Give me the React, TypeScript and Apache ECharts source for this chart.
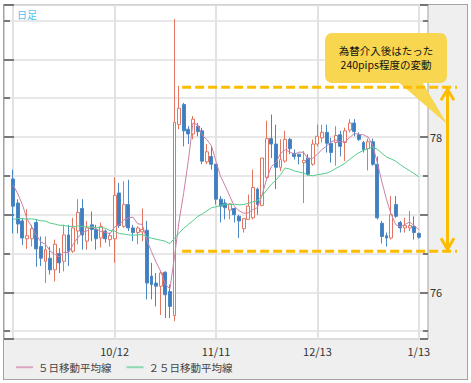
import React, { useEffect, useRef } from "react";
import * as echarts from "echarts";

// Trading days (category axis). Data exists from 9/12 to 1/13.
const dates = [
  "9/8", "9/9", "9/12", "9/13", "9/14", "9/15", "9/16", "9/19", "9/20", "9/21",
  "9/22", "9/23", "9/26", "9/27", "9/28", "9/29", "9/30", "10/3", "10/4", "10/5",
  "10/6", "10/7", "10/10", "10/11", "10/12", "10/13", "10/14", "10/17", "10/18", "10/19",
  "10/20", "10/21", "10/24", "10/25", "10/26", "10/27", "10/28", "10/31", "11/1", "11/2",
  "11/3", "11/4", "11/7", "11/8", "11/9", "11/10", "11/11", "11/14", "11/15", "11/16",
  "11/17", "11/18", "11/21", "11/22", "11/23", "11/24", "11/25", "11/28", "11/29", "11/30",
  "12/1", "12/2", "12/5", "12/6", "12/7", "12/8", "12/9", "12/12", "12/13", "12/14",
  "12/15", "12/16", "12/19", "12/20", "12/21", "12/22", "12/23", "12/27", "12/28", "12/29",
  "12/30", "1/2", "1/3", "1/4", "1/5", "1/6", "1/9", "1/10", "1/11", "1/12",
  "1/13", "1/16", "1/17",
];
const firstDataDate = "9/12";

const opens = [
  77.46, 77.15, 76.92, 76.69, 76.69, 76.90, 76.59, 76.40, 76.44, 76.29,
  76.50, 76.40, 76.74, 76.53, 76.79, 77.08, 76.66, 76.87, 76.81, 76.70,
  76.79, 76.68, 76.69, 77.28, 76.85, 77.13, 76.83, 76.77, 76.78, 76.80,
  76.21, 76.12, 76.08, 76.26, 76.01, 75.70, 78.16, 78.42, 78.10, 78.04,
  78.14, 78.08, 77.68, 77.75, 77.65, 77.20, 77.15, 77.06, 77.08, 76.98,
  76.82, 76.94, 76.96, 77.33, 77.12, 77.48, 77.98, 77.91, 77.61, 77.69,
  77.97, 77.79, 77.78, 77.67, 77.73, 77.65, 77.91, 77.99, 78.06, 77.92,
  77.93, 78.03, 77.93, 78.09, 78.18, 78.03, 77.93, 77.85, 77.94, 77.65,
  76.89, 76.73, 76.70, 77.13, 76.90, 76.83, 76.83, 76.85, 76.76,
];
const closes = [
  77.11, 76.88, 76.70, 76.73, 76.82, 76.56, 76.44, 76.55, 76.29, 76.62,
  76.38, 76.74, 76.53, 76.83, 77.03, 76.74, 76.83, 76.81, 76.69, 76.85,
  76.69, 76.73, 77.25, 76.86, 77.13, 76.83, 76.77, 76.83, 76.81, 76.12,
  76.10, 76.08, 76.25, 75.97, 75.82, 78.19, 78.37, 78.08, 78.04, 78.23,
  78.07, 77.69, 77.81, 77.65, 77.20, 77.11, 77.09, 77.14, 77.00, 76.92,
  76.95, 77.11, 77.35, 77.13, 77.73, 77.98, 77.91, 77.61, 77.71, 77.97,
  77.85, 77.75, 77.75, 77.70, 77.52, 77.91, 78.01, 78.06, 77.92, 77.80,
  78.02, 77.88, 78.08, 78.18, 78.07, 77.97, 77.84, 77.94, 77.65, 76.96,
  76.72, 76.70, 77.00, 76.98, 76.83, 76.86, 76.86, 76.77, 76.71,
];
const lows = [
  76.76, 76.76, 76.61, 76.56, 76.59, 76.33, 76.34, 76.12, 76.23, 76.14,
  76.25, 76.27, 76.34, 76.51, 76.62, 76.55, 76.55, 76.66, 76.55, 76.58,
  76.64, 76.59, 76.38, 76.83, 76.83, 76.79, 76.66, 76.62, 76.66, 75.91,
  75.91, 75.82, 75.71, 75.67, 75.67, 75.63, 78.10, 77.88, 77.91, 77.97,
  78.01, 77.65, 77.65, 77.58, 77.13, 76.90, 76.94, 76.94, 76.90, 76.70,
  76.77, 76.94, 76.94, 77.00, 77.11, 77.45, 77.73, 77.33, 77.56, 77.67,
  77.78, 77.71, 77.65, 77.15, 77.50, 77.63, 77.88, 77.93, 77.80, 77.67,
  77.63, 77.75, 77.69, 78.06, 78.01, 77.95, 77.80, 77.57, 77.63, 76.94,
  76.63, 76.59, 76.68, 76.96, 76.77, 76.77, 76.79, 76.68, 76.69,
];
const highs = [
  77.58, 77.20, 76.96, 77.07, 76.87, 76.94, 76.72, 76.72, 76.59, 76.68,
  76.57, 76.87, 76.87, 76.96, 77.20, 77.20, 76.92, 77.04, 76.87, 76.90,
  76.81, 76.77, 77.48, 77.41, 77.43, 77.45, 76.87, 76.85, 77.08, 76.92,
  76.38, 76.25, 76.27, 76.27, 76.10, 79.52, 78.66, 78.44, 78.14, 78.27,
  78.18, 78.12, 77.91, 77.88, 77.65, 77.24, 77.20, 77.15, 77.09, 77.00,
  76.96, 77.26, 77.58, 77.35, 77.73, 78.21, 78.29, 78.16, 77.97, 78.08,
  77.99, 77.84, 77.78, 77.82, 77.78, 77.97, 78.16, 78.16, 78.16, 77.99,
  78.14, 78.08, 78.12, 78.23, 78.23, 78.06, 77.95, 77.98, 77.98, 77.75,
  76.92, 76.77, 77.24, 77.24, 76.92, 76.96, 77.05, 76.98, 76.77,
];
// closes of the 24 trading days before 9/12 (estimated from the MA lines' starting levels)
const priorCloses = [
  76.60, 76.75, 76.90, 76.70, 76.85, 76.80, 76.65, 76.95, 76.90, 76.75, 76.80,
  76.85, 76.95, 76.80, 76.90, 76.95, 76.85, 76.91,
  76.80, 76.94, 77.45, 77.40, 77.65, 77.30,
];

const ma5Name = "５日移動平均線";
const ma25Name = "２５日移動平均線";
const labelDates = ["10/12", "11/11", "12/13", "1/13"];
const gridDates = ["9/12", "10/12", "11/11", "12/13", "1/13"];
const yMin = 75.4;
const yMax = 79.7;
const periodLabel = "日足";
const calloutLines = ["為替介入後はたった", "240pips程度の変動"];
const rangeHigh = 78.64;
const rangeLow = 76.53;
const rangeStartDate = "11/1";

const FONT = "'Noto Sans CJK JP', 'Noto Sans', sans-serif";
const ORANGE = "#fcbd00";
const YELLOW = "#f8d64f";

function movingAverage(n: number): (number | string)[] {
  const start = dates.indexOf(firstDataDate);
  const all = priorCloses.concat(closes);
  const off = priorCloses.length;
  return dates.map((_, i) => {
    const k = i - start;
    if (k < 0 || k >= closes.length) return "-";
    let s = 0;
    for (let j = 0; j < n; j++) s += all[k + off - j];
    return +(s / n).toFixed(3);
  });
}

export default function App() {
  const ref = useRef<HTMLDivElement>(null);

  useEffect(() => {
    if (!ref.current) return;
    const chart = echarts.init(ref.current, undefined, { renderer: "svg" });
    const start = dates.indexOf(firstDataDate);
    const candle = dates.map((_, i) => {
      const k = i - start;
      if (k < 0 || k >= opens.length) return ["-", "-", "-", "-"];
      return [opens[k], closes[k], lows[k], highs[k]];
    });

    chart.setOption({
      animation: false,
      textStyle: { fontFamily: FONT },
      grid: {
        left: 4,
        top: 5,
        width: 424,
        height: 334,
        show: true,
        backgroundColor: "#ffffff",
        borderColor: "#a3a3a3",
        borderWidth: 1,
      },
      legend: {
        left: 16,
        top: 362,
        padding: 0,
        itemWidth: 17,
        itemHeight: 2,
        itemGap: 15,
        icon: "rect",
        data: [ma5Name, ma25Name],
        textStyle: { fontSize: 10.5, color: "#444", fontFamily: FONT },
      },
      xAxis: {
        type: "category",
        data: dates,
        boundaryGap: false,
        axisLine: { show: false },
        axisTick: { show: false },
        axisLabel: {
          interval: (_i: number, v: string) => labelDates.includes(v),
          fontSize: 11,
          color: "#333",
          margin: 6,
          fontFamily: FONT,
        },
        splitLine: {
          show: true,
          interval: (_i: number, v: string) => gridDates.includes(v),
          lineStyle: { color: "#e2e2e2", width: 2 },
        },
      },
      yAxis: [
        {
          type: "value",
          position: "left",
          min: yMin,
          max: yMax,
          splitNumber: 4,
          axisLine: { show: false },
          axisTick: { show: true, inside: true, length: 10, lineStyle: { color: "#555", width: 1.5 } },
          minorTick: { show: true, splitNumber: 2, length: 6, lineStyle: { color: "#555", width: 1.5 } },
          axisLabel: { show: false },
          splitLine: { show: true, lineStyle: { color: "#e0e0e0", width: 1.5 } },
          minorSplitLine: { show: true, lineStyle: { color: "#e0e0e0", width: 1.5 } },
        },
        {
          type: "value",
          position: "right",
          min: yMin,
          max: yMax,
          splitNumber: 4,
          axisLine: { show: false },
          axisTick: { show: true, inside: true, length: 8, lineStyle: { color: "#555", width: 1.5 } },
          minorTick: { show: true, splitNumber: 2, length: 5, lineStyle: { color: "#555", width: 1.5 } },
          axisLabel: {
            margin: 2,
            fontSize: 11,
            color: "#333",
            fontFamily: FONT,
            formatter: (v: number) => (Math.abs(v - Math.round(v)) < 1e-6 && Math.round(v) % 2 === 0 ? String(Math.round(v)) : ""),
          },
          splitLine: { show: false },
        },
      ],
      series: [
        {
          type: "candlestick",
          data: candle,
          barWidth: 3.4,
          itemStyle: {
            color: "#ffffff",
            color0: "#3f7fbf",
            borderColor: "#e27660",
            borderColor0: "#4a87c4",
            borderWidth: 1,
          },
        },
        {
          type: "line",
          name: ma5Name,
          data: movingAverage(5),
          symbol: "none",
          lineStyle: { color: "#cc80a8", width: 1 },
          itemStyle: { color: "#dca4c0" },
          z: 3,
        },
        {
          type: "line",
          name: ma25Name,
          data: movingAverage(25),
          symbol: "none",
          lineStyle: { color: "#55cc8e", width: 1 },
          itemStyle: { color: "#8ad9b0" },
          z: 3,
        },
      ],
    });

    const yTop = chart.convertToPixel({ yAxisIndex: 0 }, rangeHigh) as number;
    const yBot = chart.convertToPixel({ yAxisIndex: 0 }, rangeLow) as number;
    const xStart = (chart.convertToPixel({ xAxisIndex: 0 }, rangeStartDate) as number) + 3;
    const xArrow = 447.5;
    const xEnd = 457;

    chart.setOption({
      graphic: [
        {
          type: "text",
          left: 17,
          top: 9,
          style: { text: periodLabel, fontSize: 10, fill: "#4fc2ee", fontFamily: FONT },
          z: 10,
        },
        {
          type: "polygon",
          shape: { points: [[396, 80], [421, 80], [447, 124]] },
          style: { fill: YELLOW },
          z: 10,
        },
        {
          type: "rect",
          shape: { x: 325, y: 33, width: 122, height: 50, r: 7 },
          style: { fill: YELLOW },
          z: 10,
        },
        {
          type: "text",
          x: 386,
          y: 50.8,
          style: {
            text: calloutLines[0],
            align: "center",
            verticalAlign: "middle",
            fontSize: 10.5,
            lineHeight: 11,
            fill: "#111",
            fontFamily: FONT,
          },
          z: 11,
        },
        {
          type: "text",
          x: 386,
          y: 64.3,
          style: {
            text: calloutLines[1],
            align: "center",
            verticalAlign: "middle",
            fontSize: 10.5,
            lineHeight: 11,
            fill: "#111",
            fontFamily: FONT,
          },
          z: 11,
        },
        {
          type: "line",
          shape: { x1: xStart, y1: yTop, x2: xEnd, y2: yTop },
          style: { stroke: ORANGE, lineWidth: 3, lineDash: [9, 4] },
          z: 12,
        },
        {
          type: "line",
          shape: { x1: xStart, y1: yBot, x2: xEnd, y2: yBot },
          style: { stroke: ORANGE, lineWidth: 3, lineDash: [9, 4] },
          z: 12,
        },
        {
          type: "line",
          shape: { x1: xArrow, y1: yTop + 2, x2: xArrow, y2: yBot - 2 },
          style: { stroke: ORANGE, lineWidth: 3 },
          z: 13,
        },
        {
          type: "polyline",
          shape: { points: [[xArrow - 6.5, yTop + 13], [xArrow, yTop + 2], [xArrow + 6.5, yTop + 13]] },
          style: { stroke: ORANGE, lineWidth: 3, fill: "none" },
          z: 13,
        },
        {
          type: "polyline",
          shape: { points: [[xArrow - 6.5, yBot - 13], [xArrow, yBot - 2], [xArrow + 6.5, yBot - 13]] },
          style: { stroke: ORANGE, lineWidth: 3, fill: "none" },
          z: 13,
        },
      ],
    });

    return () => chart.dispose();
  }, []);

  return (
    <div style={{ position: "fixed", left: 0, top: 0, width: 471, height: 383, background: "#ffffff" }}>
      <div
        style={{
          position: "absolute",
          left: 3,
          top: 4,
          width: 465,
          height: 376,
          boxSizing: "border-box",
          border: "1px solid #a3a3a3",
          background: "#efefef",
        }}
      />
      <div ref={ref} style={{ position: "absolute", left: 0, top: 0, width: 471, height: 383 }} />
    </div>
  );
}
